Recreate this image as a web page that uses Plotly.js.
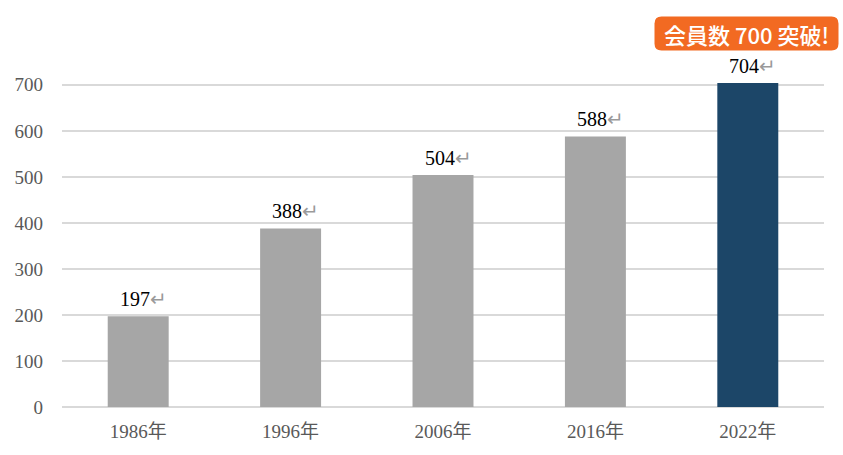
<!DOCTYPE html>
<html>
<head>
<meta charset="utf-8">
<script src="https://cdn.plot.ly/plotly-3.0.1.min.js"></script>
<style>html,body{margin:0;padding:0;background:#fff;}#chart{width:843px;height:455px;}</style>
</head>
<body>
<div id="chart"></div>
<script>
const categories = ['1986年', '1996年', '2006年', '2016年', '2022年'];
const members = [197, 388, 504, 588, 704];
const barColors = ['#a6a6a6', '#a6a6a6', '#a6a6a6', '#a6a6a6', '#1c4668'];
const yTicks = [0, 100, 200, 300, 400, 500, 600, 700];
const badgeText = '会員数 700 突破!';

const trace = {
  type: 'bar',
  x: categories,
  y: members,
  marker: {color: barColors},
  hoverinfo: 'none'
};

const layout = {
  width: 843, height: 455,
  margin: {l: 62, r: 19, t: 83, b: 48},
  paper_bgcolor: '#fff', plot_bgcolor: '#fff',
  bargap: 0.6,
  showlegend: false,
  xaxis: {
    type: 'category',
    tickfont: {family: '"Liberation Serif", "Noto Sans CJK JP", serif', size: 19, color: '#595959'},
    showgrid: false, showline: false, zeroline: false, ticks: '',
    ticklabelstandoff: 11
  },
  yaxis: {
    range: [0, 704],
    tickvals: yTicks,
    tickfont: {family: '"Liberation Serif", serif', size: 19, color: '#595959'},
    gridcolor: '#d9d9d9', gridwidth: 2,
    zeroline: true, zerolinecolor: '#d9d9d9', zerolinewidth: 2,
    showline: false, ticks: '', ticklen: 0,
    ticklabelstandoff: 18
  },
  shapes: [],
  annotations: members.map((v, i) => ({
    xref: 'x', yref: 'y',
    x: categories[i], y: v,
    xanchor: 'center', yanchor: 'middle',
    xshift: 5, yshift: 17,
    showarrow: false,
    text: v + '<span style="color:#9a9a9a;font-size:20px">↵</span>',
    font: {family: '"Liberation Serif", serif', size: 20, color: '#000'}
  }))
};

(function(){
  const plotW = 843 - 62 - 19, plotH = 455 - 83 - 48;
  const cx = 746.5 - 62, cy = 33.5 - 83;
  layout.shapes.push({
    type: 'path',
    xref: 'paper', yref: 'paper',
    xsizemode: 'pixel', ysizemode: 'pixel',
    xanchor: cx / plotW, yanchor: 1 - cy / plotH,
    path: 'M -85 -17 L 85 -17 Q 92 -17 92 -10 L 92 10 Q 92 17 85 17 L -85 17 Q -92 17 -92 10 L -92 -10 Q -92 -17 -85 -17 Z',
    fillcolor: '#f26a22',
    line: {width: 0},
    layer: 'above'
  });
  layout.annotations.push({
    xref: 'paper', yref: 'paper',
    x: cx / plotW, y: 1 - cy / plotH,
    xanchor: 'center', yanchor: 'middle',
    text: badgeText, showarrow: false,
    font: {family: '"Noto Sans CJK JP", sans-serif', size: 22, color: '#fff', weight: 500}
  });
})();

Plotly.newPlot('chart', [trace], layout, {displayModeBar: false, staticPlot: true});
</script>
</body>
</html>
